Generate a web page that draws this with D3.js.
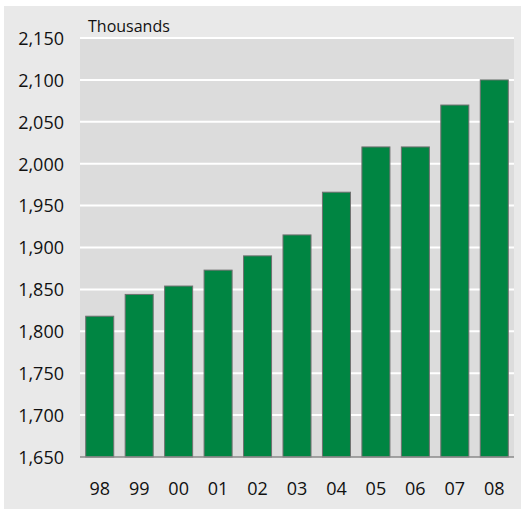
<!DOCTYPE html>
<html><head><meta charset="utf-8">
<script src="https://cdn.jsdelivr.net/npm/d3@7"></script>
<style>html,body{margin:0;padding:0;background:#fff;}svg{display:block;}</style>
</head><body>
<svg id="c" width="521" height="509"></svg>
<script>
const categories = ["98","99","00","01","02","03","04","05","06","07","08"];
const values = [1818, 1844, 1854, 1873, 1890, 1915, 1966, 2020, 2020, 2070, 2100];
const yTicks = [1650,1700,1750,1800,1850,1900,1950,2000,2050,2100,2150];
const unitLabel = "Thousands";

const svg = d3.select("#c");
const font = "'Open Sans', sans-serif";
svg.append("rect").attr("x",4).attr("y",6).attr("width",517).attr("height",503).attr("fill","#e9e9e9");

const L = 80, R = 514, T = 38, B = 457;
const x = d3.scaleBand().domain(categories).range([L, R]).paddingInner(0.29).paddingOuter(0.145);
const y = d3.scaleLinear().domain([1650, 2150]).range([B, T]);

svg.append("rect").attr("x",L).attr("y",T).attr("width",R-L).attr("height",B-T).attr("fill","#dcdcdc");

svg.append("g").selectAll("line").data(yTicks.slice(1)).join("line")
  .attr("x1",L).attr("x2",R).attr("y1",d=>y(d)).attr("y2",d=>y(d))
  .attr("stroke","#fff").attr("stroke-width",2);

svg.append("g").selectAll("rect").data(values).join("rect")
  .attr("x",(d,i)=>x(categories[i])).attr("width",x.bandwidth())
  .attr("y",d=>y(d)).attr("height",d=>B-y(d))
  .attr("fill","#008542").attr("stroke","#707070").attr("stroke-width",1);

svg.append("line").attr("x1",L).attr("x2",R).attr("y1",B).attr("y2",B).attr("stroke","#8a8a8a").attr("stroke-width",1.5);

const yAxis = d3.axisLeft(y).tickValues(yTicks).tickFormat(d3.format(",")).tickSize(0).tickPadding(16);
const ya = svg.append("g").attr("transform",`translate(${L},0)`).call(yAxis);
ya.select(".domain").remove();
ya.selectAll("text").attr("font-family",font).attr("font-size",18).attr("fill","#111").attr("dy","0.35em");

const xAxis = d3.axisBottom(x).tickSize(0).tickPadding(25);
const xa = svg.append("g").attr("transform",`translate(0,${B})`).call(xAxis);
xa.select(".domain").remove();
xa.selectAll("text").attr("font-family",font).attr("font-size",18).attr("fill","#111");

svg.append("text").attr("x",88).attr("y",32).attr("font-family",font).attr("font-size",16).attr("fill","#111").text(unitLabel);
</script>
</body></html>
